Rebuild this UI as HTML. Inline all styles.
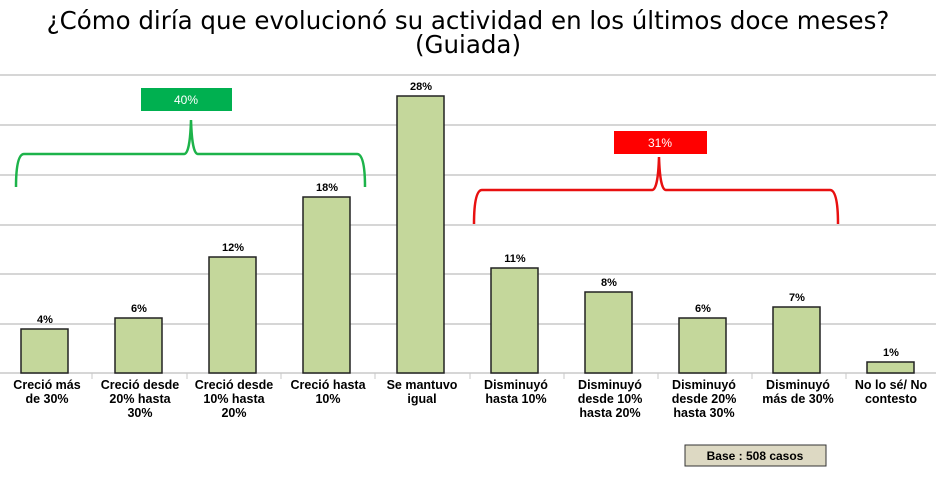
<!DOCTYPE html>
<html><head><meta charset="utf-8"><style>
body{margin:0;background:#fff;width:936px;height:472px;overflow:hidden;font-family:"Liberation Sans",sans-serif}
</style></head><body>
<svg width="936" height="472" xmlns="http://www.w3.org/2000/svg" font-family="Liberation Sans, sans-serif">
<text x="468" y="29" text-anchor="middle" font-size="24.5" font-family="DejaVu Sans, sans-serif" fill="#000">¿Cómo diría que evolucionó su actividad en los últimos doce meses?</text>
<text x="468" y="53" text-anchor="middle" font-size="24.5" font-family="DejaVu Sans, sans-serif" fill="#000">(Guiada)</text>
<g stroke="#c8c8c8" stroke-width="1.5">
<line x1="0" x2="936" y1="75" y2="75"/><line x1="0" x2="936" y1="125" y2="125"/>
<line x1="0" x2="936" y1="175" y2="175"/><line x1="0" x2="936" y1="225" y2="225"/>
<line x1="0" x2="936" y1="274" y2="274"/><line x1="0" x2="936" y1="324" y2="324"/>
<line x1="0" x2="936" y1="373" y2="373"/>
</g>
<g stroke="#c8c8c8" stroke-width="1">
<line x1="92" x2="92" y1="373" y2="379"/><line x1="187" x2="187" y1="373" y2="379"/>
<line x1="281" x2="281" y1="373" y2="379"/><line x1="375" x2="375" y1="373" y2="379"/>
<line x1="470" x2="470" y1="373" y2="379"/><line x1="564" x2="564" y1="373" y2="379"/>
<line x1="658" x2="658" y1="373" y2="379"/><line x1="752" x2="752" y1="373" y2="379"/>
<line x1="846" x2="846" y1="373" y2="379"/>
</g>
<g fill="#c4d79b" stroke="#222" stroke-width="1.5">
<rect x="21" y="329" width="47" height="44"/>
<rect x="115" y="318" width="47" height="55"/>
<rect x="209" y="257" width="47" height="116"/>
<rect x="303" y="197" width="47" height="176"/>
<rect x="397" y="96" width="47" height="277"/>
<rect x="491" y="268" width="47" height="105"/>
<rect x="585" y="292" width="47" height="81"/>
<rect x="679" y="318" width="47" height="55"/>
<rect x="773" y="307" width="47" height="66"/>
<rect x="867" y="362" width="47" height="11"/>
</g>
<g font-size="11" font-weight="bold" text-anchor="middle" fill="#000">
<text x="45" y="323">4%</text><text x="139" y="312">6%</text><text x="233" y="251">12%</text>
<text x="327" y="191">18%</text><text x="421" y="90">28%</text><text x="515" y="262">11%</text>
<text x="609" y="286">8%</text><text x="703" y="312">6%</text><text x="797" y="301">7%</text>
<text x="891" y="356">1%</text>
</g>
<g font-size="12.5" font-weight="bold" text-anchor="middle" fill="#000">
<text x="47" y="389">Creció más</text><text x="47" y="403">de 30%</text>
<text x="140" y="389">Creció desde</text><text x="140" y="403">20% hasta</text><text x="140" y="417">30%</text>
<text x="234" y="389">Creció desde</text><text x="234" y="403">10% hasta</text><text x="234" y="417">20%</text>
<text x="328" y="389">Creció hasta</text><text x="328" y="403">10%</text>
<text x="422" y="389">Se mantuvo</text><text x="422" y="403">igual</text>
<text x="516" y="389">Disminuyó</text><text x="516" y="403">hasta 10%</text>
<text x="610" y="389">Disminuyó</text><text x="610" y="403">desde 10%</text><text x="610" y="417">hasta 20%</text>
<text x="704" y="389">Disminuyó</text><text x="704" y="403">desde 20%</text><text x="704" y="417">hasta 30%</text>
<text x="798" y="389">Disminuyó</text><text x="798" y="403">más de 30%</text>
<text x="891" y="389">No lo sé/ No</text><text x="891" y="403">contesto</text>
</g>
<path d="M16 187 Q16 154 24 154 L184 154 Q190 154 191 120 Q192 154 198 154 L357 154 Q365 154 365 187" fill="none" stroke="#1db34a" stroke-width="2.5"/>
<rect x="141" y="88" width="91" height="23" fill="#00b050"/>
<text x="186" y="104" text-anchor="middle" font-size="12" fill="#fff">40%</text>
<path d="M474 224 Q474 190 482 190 L652 190 Q658 190 659 157 Q660 190 666 190 L830 190 Q838 190 838 224" fill="none" stroke="#e81010" stroke-width="2.5"/>
<rect x="614" y="131" width="93" height="23" fill="#ff0000"/>
<text x="660" y="147" text-anchor="middle" font-size="12" fill="#fff">31%</text>
<rect x="685" y="445" width="141" height="21" fill="#ddd9c3" stroke="#333" stroke-width="1"/>
<text x="755" y="460" text-anchor="middle" font-size="12" font-weight="bold">Base : 508 casos</text>
</svg>
</body></html>
